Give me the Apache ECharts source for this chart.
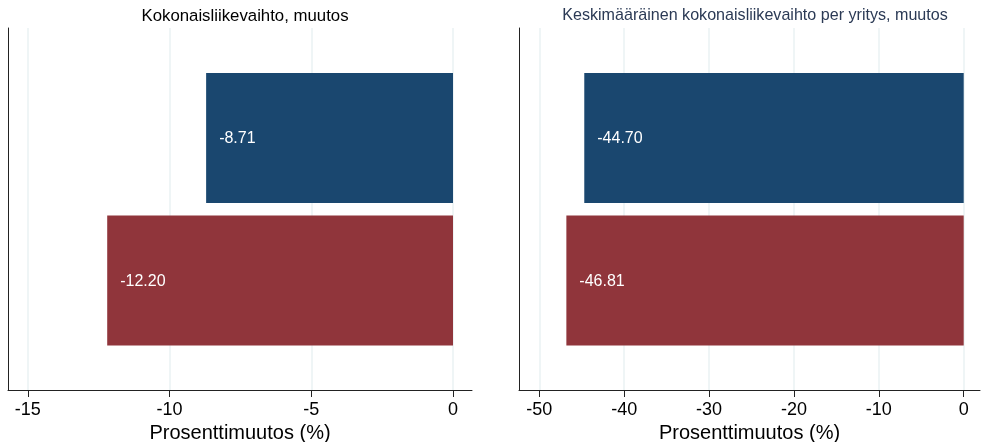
<!DOCTYPE html>
<html>
<head>
<meta charset="utf-8">
<script src="https://cdn.jsdelivr.net/npm/echarts@6/dist/echarts.min.js"></script>
<style>html,body{margin:0;padding:0;background:#fff}#c{width:981px;height:442px}</style>
</head>
<body>
<div id="c"></div>
<script>
const groups = ['1', '2'];
const panelTitles = ['Kokonaisliikevaihto, muutos', 'Keskimääräinen kokonaisliikevaihto per yritys, muutos'];
const totalChange = [-8.71, -12.20];
const avgChange = [-44.70, -46.81];
const xTicksLeft = [-15, -10, -5, 0];
const xTicksRight = [-50, -40, -30, -20, -10, 0];
const axisTitle = 'Prosenttimuutos (%)';
const barColors = ['#1a476f', '#90353b'];

const FONT = 'Liberation Sans, Arial, sans-serif';
const chart = echarts.init(document.getElementById('c'), null, {renderer: 'canvas'});

const ranges = [[-15.7, 0.67], [-52.39, 1.92]];

function frameX(grid, ticks) {
  return {
    type: 'value', gridIndex: grid, min: ranges[grid][0], max: ranges[grid][1],
    name: axisTitle, nameLocation: 'middle', nameGap: 28,
    nameTextStyle: {color: '#000', fontSize: 20, fontFamily: FONT},
    axisLine: {show: true, onZero: false, lineStyle: {color: '#222', width: 1}},
    axisTick: {show: true, length: 7, lineStyle: {color: '#222'}, customValues: ticks},
    axisLabel: {color: '#000', fontSize: 18, fontFamily: FONT, margin: 11, customValues: ticks},
    splitLine: {show: true, lineStyle: {color: '#eaf2f3', width: 1.5}}
  };
}
function frameY(grid) {
  return {
    type: 'value', gridIndex: grid, min: 0, max: 1,
    axisLine: {show: true, onZero: false, lineStyle: {color: '#222', width: 1}},
    axisTick: {show: false}, axisLabel: {show: false}, splitLine: {show: false}
  };
}
function barX(grid, panel) {
  return {
    type: 'value', gridIndex: grid, min: ranges[panel][0], max: ranges[panel][1], show: false,
    splitLine: {show: false}
  };
}
function barY(grid) {
  return {type: 'category', gridIndex: grid, data: groups, inverse: true, show: false};
}
function seriesCfg(grid, vals) {
  return {
    type: 'bar', xAxisIndex: grid, yAxisIndex: grid, barWidth: 130,
    data: vals.map((v, i) => ({value: v, itemStyle: {color: barColors[i]}})),
    label: {show: true, position: 'insideLeft', distance: 13, color: '#fff', fontSize: 16, fontFamily: FONT,
      offset: [0, 1], formatter: p => p.value.toFixed(2)}
  };
}

chart.setOption({
  animation: false,
  title: [
    {text: panelTitles[0], left: 240, top: 3, textAlign: 'center',
      textStyle: {color: '#000', fontSize: 16.8, fontWeight: 'normal', fontFamily: FONT}},
    {text: panelTitles[1], left: 750, top: 3, textAlign: 'center',
      textStyle: {color: '#2b3a55', fontSize: 16.1, fontWeight: 'normal', fontFamily: FONT}}
  ],
  grid: [
    {left: 8, right: 509, top: 28, bottom: 52, outerBoundsMode: 'none'},
    {left: 519, right: 1, top: 28, bottom: 52, outerBoundsMode: 'none'},
    {left: 8, right: 509, top: 66.75, bottom: 90.25, outerBoundsMode: 'none'},
    {left: 519, right: 1, top: 66.75, bottom: 90.25, outerBoundsMode: 'none'}
  ],
  xAxis: [frameX(0, xTicksLeft), frameX(1, xTicksRight), barX(2, 0), barX(3, 1)],
  yAxis: [frameY(0), frameY(1), barY(2), barY(3)],
  series: [seriesCfg(2, totalChange), seriesCfg(3, avgChange)]
});
</script>
</body>
</html>
